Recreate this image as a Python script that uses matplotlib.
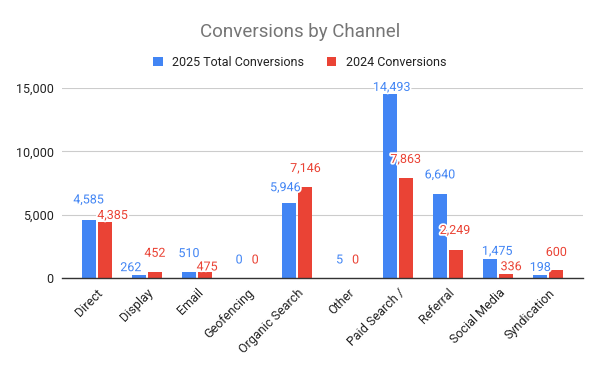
import numpy as np
import matplotlib
matplotlib.use('Agg')
import matplotlib.pyplot as plt
import matplotlib.patheffects as pe

channels = ['Direct', 'Display', 'Email', 'Geofencing', 'Organic Search',
            'Other', 'Paid Search /', 'Referral', 'Social Media', 'Syndication']
conv_2025 = [4585, 262, 510, 0, 5946, 5, 14493, 6640, 1475, 198]
conv_2024 = [4385, 452, 475, 0, 7146, 0, 7863, 2249, 336, 600]

# label nudges (pixels) to mimic the original's collision-avoiding placement
dx_2025 = [0, -8, 0, 0, -4, 0, 2, 0, 7, 0]
dy_2025 = [20, 7, 18, 18, 15, 18, 7, 19, 8, 8]
dx_2024 = [8, 0, 2, 0, 0, 0, 0, -1, 5, 0]
dy_2024 = [7, 19, 5, 18, 19, 18, 19, 19, 7, 18]

blue = '#4285F4'
red = '#EA4335'

plt.rcParams['font.family'] = ['Roboto', 'DejaVu Sans']

fig = plt.figure(figsize=(6, 3.71), dpi=100)
ax = fig.add_axes([0.1033, 0.2507, 0.8684, 0.5121])

x = np.arange(len(channels))
w = 0.28
off = 0.16
b1 = ax.bar(x - off, conv_2025, w, color=blue, label='2025 Total Conversions', zorder=3)
b2 = ax.bar(x + off, conv_2024, w, color=red, label='2024 Conversions', zorder=3)

halo = [pe.withStroke(linewidth=2.5, foreground='white')]
for i in range(len(channels)):
    ax.annotate(f'{conv_2025[i]:,}', (x[i] - off, conv_2025[i]),
                xytext=(dx_2025[i], dy_2025[i]), textcoords='offset pixels',
                ha='center', va='center', fontsize=9, color=blue,
                path_effects=halo, zorder=5)
    ax.annotate(f'{conv_2024[i]:,}', (x[i] + off, conv_2024[i]),
                xytext=(dx_2024[i], dy_2024[i]), textcoords='offset pixels',
                ha='center', va='center', fontsize=9, color=red,
                path_effects=halo, zorder=5)

ax.set_xlim(-0.69, 9.69)
ax.set_ylim(0, 15000)
ax.set_yticks([0, 5000, 10000, 15000])
ax.set_yticklabels(['0', '5,000', '10,000', '15,000'], fontsize=9, color='#222222')
ax.set_xticks(x)
ax.set_xticklabels(channels, rotation=45, ha='right', rotation_mode='anchor',
                   fontsize=9, color='#222222')
ax.tick_params(axis='both', length=0)
ax.tick_params(axis='x', pad=6)
ax.tick_params(axis='y', pad=6)
ax.grid(axis='y', color='#cccccc', linewidth=0.8, zorder=0)
for s in ['top', 'right', 'left']:
    ax.spines[s].set_visible(False)
ax.spines['bottom'].set_color('#333333')
ax.spines['bottom'].set_linewidth(1.0)
ax.spines['bottom'].set_zorder(4)

fig.text(0.5, 1 - 32 / 371, 'Conversions by Channel', ha='center', va='center',
         fontsize=13.5, color='#757575')
fig.legend(handles=[b1, b2], loc='center', bbox_to_anchor=(0.5, 1 - 62 / 371),
           ncol=2, frameon=False, fontsize=9, handlelength=0.75, handleheight=0.75,
           handletextpad=0.8, columnspacing=1.8, labelcolor='#222222')

fig.savefig('out.png', dpi=100)
